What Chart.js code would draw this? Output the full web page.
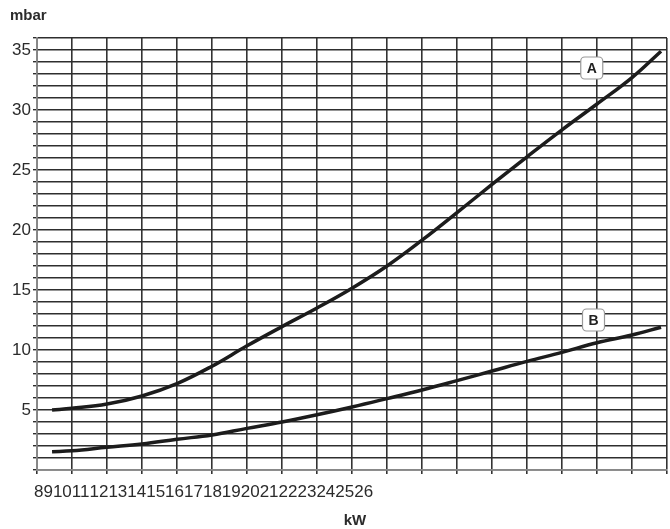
<!DOCTYPE html>
<html>
<head>
<meta charset="utf-8">
<script src="https://cdn.jsdelivr.net/npm/chart.js@4/dist/chart.umd.min.js"></script>
<style>
  html, body { margin: 0; padding: 0; background: #fff; }
  #wrap { width: 670px; height: 529px; position: relative; }
</style>
</head>
<body>
<div id="wrap"><canvas id="chart"></canvas></div>
<script>
// ---------- DATA ----------
const kwA = [8.43, 9, 10, 11, 12, 13, 14, 15, 16, 17, 18, 19, 20, 21, 22, 23, 24, 25, 25.83];
const mbarA = [5.0, 5.14, 5.5, 6.17, 7.2, 8.65, 10.35, 11.95, 13.5, 15.15, 17.0, 19.15, 21.45, 23.8, 26.1, 28.35, 30.5, 32.7, 34.9];
const kwB = [8.43, 9, 10, 11, 12, 13, 14, 15, 16, 17, 18, 19, 20, 21, 22, 23, 24, 25, 25.83];
const mbarB = [1.53, 1.6, 1.89, 2.17, 2.56, 2.92, 3.47, 4.0, 4.6, 5.25, 5.95, 6.67, 7.45, 8.25, 9.05, 9.8, 10.6, 11.25, 11.9];
const xTickLabels = ['8','9','10','11','12','13','14','15','16','17','18','19','20','21','22','23','24','25','26'];
const yTickLabels = [5, 10, 15, 20, 25, 30, 35];
const curveNames = ['A', 'B'];
const curveTagPos = [[23.85, 33.5], [23.9, 12.5]]; // data coords of the letter tags
const yUnit = 'mbar';
const xUnit = 'kW';

const TEXT = '#2b2b2b';
const FONT = '"Liberation Sans", Arial, sans-serif';

// ---------- PLUGIN: texts & tags ----------
const decor = {
  id: 'decor',
  afterDraw(chart) {
    const ctx = chart.ctx;
    const xs = chart.scales.x, ys = chart.scales.y;
    const area = chart.chartArea;
    ctx.save();

    // axis unit labels
    ctx.fillStyle = TEXT;
    ctx.font = 'bold 15px ' + FONT;
    ctx.textBaseline = 'middle';
    ctx.textAlign = 'left';
    ctx.fillText(yUnit, 10, 16);
    ctx.textAlign = 'center';
    ctx.fillText(xUnit, (area.left + area.right) / 2 + 3, 521);

    // x tick labels, run together as in the original
    ctx.font = '17px ' + FONT;
    ctx.textAlign = 'left';
    let cx = area.left - 3;
    xTickLabels.forEach(t => {
      ctx.fillText(t, cx, 492);
      cx += ctx.measureText(t).width;
    });

    // curve tags
    curveNames.forEach((name, i) => {
      const px = xs.getPixelForValue(curveTagPos[i][0]);
      const py = ys.getPixelForValue(curveTagPos[i][1]);
      const w = 22, h = 22;
      ctx.beginPath();
      ctx.roundRect(px - w / 2, py - h / 2, w, h, 4);
      ctx.fillStyle = '#fff';
      ctx.fill();
      ctx.lineWidth = 1.2;
      ctx.strokeStyle = '#999';
      ctx.stroke();
      ctx.fillStyle = '#222';
      ctx.font = 'bold 14px ' + FONT;
      ctx.textAlign = 'center';
      ctx.fillText(name, px, py + 1);
    });
    ctx.restore();
  }
};

// ---------- CHART ----------
const ctx = document.getElementById('chart').getContext('2d');
new Chart(ctx, {
  type: 'line',
  data: {
    datasets: [
      { label: 'A', data: kwA.map((x, i) => ({ x, y: mbarA[i] })) },
      { label: 'B', data: kwB.map((x, i) => ({ x, y: mbarB[i] })) }
    ].map(d => Object.assign(d, {
      borderColor: '#1c1c1c', borderWidth: 3.5, pointRadius: 0,
      tension: 0.4, fill: false
    }))
  },
  options: {
    responsive: true,
    maintainAspectRatio: false,
    animation: false,
    layout: { padding: { left: 0, right: 3, top: 38, bottom: 55 } },
    plugins: { legend: { display: false }, tooltip: { enabled: false } },
    scales: {
      x: {
        type: 'linear', min: 8, max: 26,
        ticks: { stepSize: 1, display: false },
        grid: { color: '#333', lineWidth: 1.6, drawTicks: true, tickLength: 4 },
        border: { color: '#888', width: 1.5 },
        afterFit: s => { s.height = 4; }
      },
      y: {
        min: 0, max: 36,
        ticks: {
          stepSize: 1, padding: 2, color: TEXT,
          font: { family: FONT, size: 17 },
          autoSkip: false,
          callback: v => yTickLabels.includes(v) ? String(v) : ''
        },
        grid: { color: '#2e2e2e', lineWidth: 1.4, drawTicks: true, tickLength: 4 },
        border: { color: '#888', width: 1.5 },
        afterFit: s => { s.width = 37; }
      }
    }
  },
  plugins: [decor]
});
</script>
</body>
</html>
